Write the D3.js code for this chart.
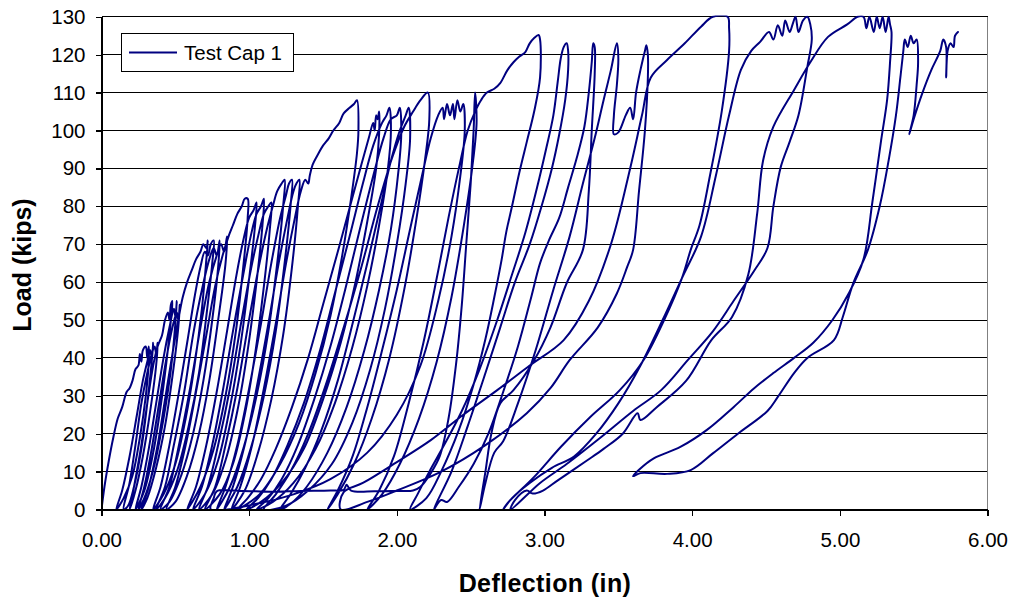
<!DOCTYPE html>
<html>
<head>
<meta charset="utf-8">
<script src="https://cdn.jsdelivr.net/npm/d3@7"></script>
<style>
  body { margin: 0; background: #fff; }
  svg { display: block; }
  text { font-family: "Liberation Sans", Arial, sans-serif; }
</style>
</head>
<body>
<svg id="chart" width="1017" height="606"></svg>
<script>
// Axis ticks and labels
const loadTicks = [0, 10, 20, 30, 40, 50, 60, 70, 80, 90, 100, 110, 120, 130];
const deflectionTicks = [0, 1, 2, 3, 4, 5, 6];
const deflectionLabels = ["0.00", "1.00", "2.00", "3.00", "4.00", "5.00", "6.00"];
const seriesName = "Test Cap 1";

// Load-deflection record, [deflection (in), load (kips)], in test order.
// Cycles grouped by the load level they reach.
const cycles43 = [
  [0,0],[0.02,6],[0.05,13],[0.08,19],[0.11,24],[0.14,27],[0.17,31],[0.19,32],[0.21,34],[0.23,37],[0.25,38],[0.26,41],[0.27,39],[0.28,42],[0.3,43],[0.31,40],[0.32,43],
  [0.32,39],[0.3,30],[0.26,19],[0.21,9],[0.15,3],[0.1,0],
  [0.14,5],[0.19,14],[0.24,25],[0.28,34],[0.31,39],[0.33,42],[0.34,40],[0.35,44],
  [0.34,39],[0.31,28],[0.27,16],[0.22,6],[0.18,1],[0.15,0],
  [0.19,7],[0.23,17],[0.27,28],[0.31,36],[0.34,41],[0.36,43],[0.37,41],[0.38,44],
  [0.37,38],[0.33,26],[0.28,14],[0.23,5],[0.19,0]
];
const cycles55 = [
  [0.22,6],[0.27,17],[0.31,28],[0.35,38],[0.38,43],[0.41,46],[0.43,50],[0.45,52],[0.46,50],[0.47,54],[0.48,55],
  [0.47,50],[0.44,39],[0.4,27],[0.35,15],[0.29,5],[0.23,0],
  [0.27,6],[0.32,16],[0.37,28],[0.42,40],[0.46,48],[0.49,53],[0.5,51],[0.51,55],
  [0.5,49],[0.47,37],[0.42,24],[0.36,12],[0.3,4],[0.25,0],
  [0.29,6],[0.34,16],[0.39,28],[0.44,40],[0.48,48],[0.51,52],[0.52,50],[0.53,54],
  [0.52,48],[0.48,35],[0.43,22],[0.37,11],[0.31,3],[0.27,0]
];
const cycles71 = [
  [0.32,6],[0.38,17],[0.43,29],[0.48,41],[0.52,50],[0.55,56],[0.58,60],[0.61,63],[0.64,66],[0.67,68],[0.69,70],[0.71,69],[0.72,71],
  [0.71,66],[0.68,53],[0.63,38],[0.57,24],[0.5,12],[0.42,4],[0.35,0],
  [0.4,6],[0.46,17],[0.52,30],[0.58,44],[0.63,56],[0.67,64],[0.7,68],[0.72,67],[0.74,70],[0.76,71],
  [0.75,65],[0.71,51],[0.66,36],[0.59,22],[0.51,10],[0.43,3],[0.37,0],
  [0.43,6],[0.49,17],[0.56,31],[0.62,46],[0.68,58],[0.73,66],[0.76,69],[0.78,67],[0.8,71],
  [0.79,64],[0.75,50],[0.69,34],[0.62,20],[0.54,9],[0.46,2],[0.4,0],
  [0.46,6],[0.53,18],[0.6,32],[0.67,48],[0.73,60],[0.78,67],[0.81,70],[0.83,68],[0.85,72],
  [0.84,65],[0.79,50],[0.73,34],[0.66,20],[0.58,9],[0.5,2],[0.44,0]
];
const cycles82 = [
  [0.5,6],[0.57,17],[0.64,31],[0.71,46],[0.77,59],[0.82,67],[0.86,72],[0.89,75],[0.92,78],[0.95,80],[0.97,82],[0.99,82],
  [0.99,77],[0.96,64],[0.91,47],[0.84,30],[0.76,16],[0.67,6],[0.58,0],
  [0.64,6],[0.71,17],[0.78,31],[0.85,47],[0.91,61],[0.96,71],[1.0,77],[1.03,79],[1.05,81],
  [1.04,75],[1.0,61],[0.94,43],[0.87,27],[0.79,13],[0.7,4],[0.62,0],
  [0.68,6],[0.75,17],[0.82,31],[0.89,47],[0.96,62],[1.01,72],[1.05,78],[1.08,80],[1.1,82],
  [1.09,75],[1.05,60],[0.99,42],[0.92,26],[0.84,13],[0.75,4],[0.66,0],
  [0.72,6],[0.79,17],[0.87,32],[0.94,48],[1.01,63],[1.06,72],[1.1,78],[1.13,80],[1.15,81],
  [1.14,74],[1.1,59],[1.04,41],[0.97,25],[0.89,12],[0.8,4],[0.7,0]
];
const cycles87 = [
  [0.77,6],[0.84,17],[0.92,32],[0.99,48],[1.06,63],[1.12,74],[1.16,80],[1.19,84],[1.22,86],[1.24,87],
  [1.23,80],[1.19,65],[1.13,47],[1.05,30],[0.96,16],[0.87,6],[0.78,0],
  [0.84,6],[0.92,17],[1.0,32],[1.08,49],[1.15,65],[1.21,77],[1.25,83],[1.27,86],[1.29,87],
  [1.28,80],[1.24,65],[1.18,47],[1.1,30],[1.01,16],[0.92,6],[0.83,0],
  [0.89,6],[0.97,17],[1.05,32],[1.13,49],[1.2,65],[1.26,77],[1.3,84],[1.32,86],[1.34,87],
  [1.33,80],[1.29,64],[1.23,46],[1.15,29],[1.06,15],[0.97,5],[0.88,0],
  [0.94,6],[1.02,17],[1.1,32],[1.18,49],[1.25,65],[1.31,77],[1.35,84],[1.38,87],[1.4,86],[1.41,88]
];
const cycles108 = [
  [1.43,91],[1.47,94],[1.5,96],[1.54,98],[1.57,100],[1.61,102],[1.64,104.5],[1.68,106],[1.71,107],[1.73,108],
  [1.74,100],[1.73,94],[1.69,82],[1.63,67],[1.55,51],[1.45,36],[1.34,23],[1.21,12],[1.07,4],[0.92,0],
  [0.99,3],[1.08,8],[1.18,16],[1.29,27],[1.4,40],[1.5,54],[1.6,68],[1.69,81],[1.76,91],[1.81,98],[1.84,102],[1.85,100],[1.86,104],[1.87,103],[1.88,105],
  [1.88,99],[1.86,90],[1.8,76],[1.72,60],[1.62,44],[1.5,29],[1.37,16],[1.22,7],[1.08,2],[0.98,0],
  [1.06,3],[1.15,8],[1.26,17],[1.37,28],[1.48,42],[1.58,57],[1.68,72],[1.77,86],[1.84,96],[1.9,102],[1.93,104],[1.95,106],
  [1.96,100],[1.94,90],[1.88,75],[1.8,59],[1.7,43],[1.58,28],[1.45,16],[1.3,7],[1.16,2],[1.05,0],
  [1.13,3],[1.22,8],[1.33,17],[1.44,29],[1.55,43],[1.65,58],[1.75,74],[1.84,88],[1.91,98],[1.96,103],[2.0,104],[2.02,106],
  [2.03,99],[2.01,89],[1.96,74],[1.88,58],[1.78,42],[1.66,27],[1.53,15],[1.39,6],[1.28,1.5],[1.21,0],
  [1.28,4],[1.38,11],[1.49,21],[1.6,34],[1.7,49],[1.8,65],[1.89,80],[1.96,92],[2.02,100],[2.06,104],[2.08,106],
  [2.09,98],[2.06,86],[2.0,70],[1.92,53],[1.82,37],[1.7,23],[1.56,12],[1.4,5],[1.25,1],[1.1,0]
];
const cycles110 = [
  [1.18,4],[1.28,10],[1.4,20],[1.52,33],[1.64,48],[1.76,64],[1.87,80],[1.97,93],[2.05,101],[2.11,105],[2.16,108],[2.21,110],
  [2.22,103],[2.19,92],[2.13,76],[2.05,58],[1.95,40],[1.83,24],[1.71,12],[1.6,4],[1.53,0],
  [1.6,5],[1.7,14],[1.8,27],[1.9,42],[2.0,58],[2.09,74],[2.17,88],[2.23,98],[2.28,104],[2.31,106],[2.32,103],[2.34,107],[2.36,104],[2.38,107],[2.39,103],[2.41,108],[2.43,105],[2.45,107],
  [2.46,100],[2.43,88],[2.37,72],[2.28,55],[2.16,38],[2.0,25],[1.8,15],[1.55,8],[1.3,4],[1.05,1.5],[0.74,0],
  [0.76,3],[0.78,4.8],[0.95,4.9],[1.15,4.7],[1.35,4.9],[1.55,5],[1.64,5.2],[1.66,6.5],[1.69,5],[1.85,4.8],[2.0,4.9],[2.11,5],[2.16,6],[2.23,9.6],[2.29,14],[2.35,24],[2.4,38],[2.44,54],[2.47,70],[2.5,86],[2.52,100],[2.53,110],
  [2.54,102],[2.51,90],[2.45,74],[2.37,56],[2.27,39],[2.15,24],[2.02,12],[1.9,4],[1.8,0],
  [1.88,5],[1.98,14],[2.08,28],[2.18,44],[2.27,61],[2.35,77],[2.42,90],[2.48,100],[2.53,105],[2.57,108],[2.61,110],[2.66,111],[2.7,112.5],[2.75,116],[2.79,118],[2.83,119.5],[2.87,120.7],[2.9,123],[2.93,124.4],[2.96,125.2]
];
const cycles125 = [
  [2.97,124],[2.97,114],[2.93,105],[2.88,97],[2.83,89],[2.78,80],[2.74,73],[2.71,66],[2.66,56],[2.6,45],[2.52,33],[2.42,21],[2.3,10],[2.2,3],[2.09,0],
  [2.14,4],[2.22,10],[2.32,17],[2.44,26],[2.56,37],[2.68,50],[2.78,62],[2.87,73],[2.95,85],[3.01,95],[3.06,104],[3.09,113],[3.11,119],[3.13,122],[3.15,123],
  [3.16,121],[3.16,116],[3.14,108],[3.1,99],[3.05,90],[2.98,80],[2.9,70],[2.8,60],[2.7,48],[2.6,36],[2.48,22],[2.37,10],[2.25,0],
  [2.3,2.5],[2.34,2],[2.42,6],[2.52,12],[2.62,20],[2.72,31],[2.82,43],[2.91,56],[2.97,65],[3.03,71],[3.1,77],[3.16,85],[3.22,93],[3.27,101],[3.3,110],[3.32,118],[3.33,123],
  [3.34,122],[3.34,115],[3.32,100],[3.3,84],[3.26,68.5],[3.15,59.7],[3.04,48],[2.93,39.4],[2.79,31.5],[2.7,28],[2.64,20],[2.6,10],[2.56,0],
  [2.6,7],[2.66,15],[2.72,18],[2.82,28],[2.94,42],[3.06,58],[3.17,72],[3.26,86],[3.34,98],[3.4,108],[3.45,116],[3.49,123],
  [3.5,119],[3.49,112],[3.47,104],[3.47,99],[3.5,99.5],[3.55,104],[3.58,106],[3.6,103],[3.62,110],[3.65,116],[3.68,121],[3.69,122.5],
  [3.7,120],[3.7,114],[3.68,100],[3.64,84],[3.6,68.5],[3.56,64],[3.49,57],[3.36,48],[3.17,39.4],[3.04,32],[2.88,25.4],[2.6,17],[2.3,10],[2.0,5],[1.8,2],[1.62,0]
];
const cycles130 = [
  [1.64,4.6],[1.77,7],[2.0,12.5],[2.23,18.3],[2.45,25],[2.68,31.5],[2.9,38],[3.13,44.7],[3.3,55],[3.45,70],[3.58,90],[3.66,104],[3.72,114],[3.83,118.6],[3.95,123],[4.06,127.4],[4.14,130],[4.24,130],
  [4.25,127],[4.25,121],[4.2,105],[4.12,88],[4.05,75],[3.99,68.5],[3.93,61],[3.81,50],[3.67,39.4],[3.51,31.5],[3.31,24.4],[3.11,16.5],[2.93,8.6],[2.75,1.7],[2.72,0],
  [2.78,3],[2.9,7],[3.05,11],[3.2,14],[3.35,20],[3.5,28],[3.65,38],[3.8,50],[3.93,61],[4.06,72],[4.16,88],[4.25,104],[4.33,116],[4.4,121],[4.46,123.4],[4.52,126],[4.55,124],[4.58,127.8],[4.61,125],[4.63,129],[4.66,126],[4.68,128],[4.7,130],[4.72,126],[4.75,129],[4.78,130],[4.8,128],
  [4.81,124],[4.78,116.8],[4.72,104],[4.66,97],[4.6,90.4],[4.55,80],[4.51,69],[4.42,63],[4.28,55],[4.14,47],[3.97,39.4],[3.79,31.5],[3.6,26],[3.38,19],[3.15,12],[2.97,7],[2.77,0],
  [2.8,2.5],[2.88,5],[2.92,4.2],[2.99,5],[3.09,7.7],[3.29,13],[3.4,16],[3.53,20],[3.63,25.4],[3.65,23.6],[3.76,27],[3.96,34],[4.13,44.7],[4.27,50.8],[4.38,62],[4.44,78],[4.48,92],[4.55,101],[4.69,110.7],[4.8,118],[4.92,124.7],[5.05,128],[5.12,130],[5.16,130],[5.18,127],[5.2,130],[5.23,126],[5.25,130],[5.27,127],[5.29,130],[5.31,126],[5.33,130],[5.34,128],
  [5.35,126],[5.34,118],[5.32,108],[5.28,97.5],[5.22,81],[5.16,66],[5.06,57],[4.95,50],[4.82,44],[4.69,40],[4.55,36],[4.42,32],[4.28,27],[4.1,21],[3.92,16.5],[3.74,13.5],[3.64,10.5],[3.6,8.8],
  [3.65,9.6],[3.83,9.4],[3.99,10.4],[4.14,14.8],[4.31,20],[4.51,26],[4.58,29.7],[4.69,36],[4.78,40],[4.96,44.7],[5.02,50.8],[5.09,59.6],[5.19,68.5],[5.27,80],[5.33,92],[5.38,104],[5.41,114],[5.43,121],[5.44,124],[5.46,122],[5.48,125],[5.5,123],[5.52,124],
  [5.53,118],[5.52,112],[5.5,104],[5.47,99],[5.5,103],[5.56,110],[5.62,116],[5.68,121],[5.7,124],[5.72,122],[5.72,114],[5.73,121],[5.75,123],[5.77,122],[5.78,125],[5.8,126]
];

const record = [].concat(cycles43, cycles55, cycles71, cycles82, cycles87,
                         cycles108, cycles110, cycles125, cycles130);

// ---- layout ----
const svg = d3.select("#chart");
const x = d3.scaleLinear().domain([0, 6]).range([101.5, 987.5]);
const y = d3.scaleLinear().domain([0, 130]).range([509.5, 16.8]);
const fontSize = "20.5px";
const navy = "#000080";

svg.append("rect").attr("width", 1017).attr("height", 606).attr("fill", "#fff");

// horizontal gridlines
svg.append("g")
  .selectAll("line")
  .data(loadTicks.filter(v => v > 0))
  .join("line")
  .attr("x1", x(0)).attr("x2", x(6))
  .attr("y1", d => y(d)).attr("y2", d => y(d))
  .attr("stroke", "#000").attr("stroke-width", 1)
  .attr("shape-rendering", "crispEdges");

// right border of plot area
svg.append("line")
  .attr("x1", x(6)).attr("x2", x(6))
  .attr("y1", y(0)).attr("y2", y(130))
  .attr("stroke", "#808080").attr("stroke-width", 1.3)
  .attr("shape-rendering", "crispEdges");

// data line, clipped to the plot area
svg.append("clipPath").attr("id", "plotClip")
  .append("rect")
  .attr("x", x(0)).attr("y", y(130) - 1.2)
  .attr("width", x(6) - x(0)).attr("height", y(0) - y(130) + 1.2);

const line = d3.line()
  .x(d => x(d[0]))
  .y(d => y(d[1]))
  .curve(d3.curveCatmullRom.alpha(0.5));

svg.append("path")
  .datum(record)
  .attr("clip-path", "url(#plotClip)")
  .attr("fill", "none")
  .attr("stroke", navy)
  .attr("stroke-width", 2)
  .attr("stroke-linejoin", "round")
  .attr("stroke-linecap", "round")
  .attr("d", line);

// axes
const yAxis = svg.append("g")
  .attr("transform", `translate(${x(0)},0)`)
  .call(d3.axisLeft(y).tickValues(loadTicks).tickSize(6).tickSizeOuter(0).tickPadding(10)
    .tickFormat(d => String(d)));
const xAxis = svg.append("g")
  .attr("transform", `translate(0,${y(0)})`)
  .call(d3.axisBottom(x).tickValues(deflectionTicks).tickSize(6).tickSizeOuter(0).tickPadding(16.5)
    .tickFormat((d, i) => deflectionLabels[i]));

[yAxis, xAxis].forEach(g => {
  g.selectAll("path.domain").attr("stroke", "#000").attr("stroke-width", 1.3).attr("shape-rendering", "crispEdges");
  g.selectAll(".tick line").attr("stroke", "#000").attr("stroke-width", 1.3).attr("shape-rendering", "crispEdges");
  g.selectAll(".tick text")
    .attr("fill", "#000")
    .style("font-family", '"Liberation Sans", Arial, sans-serif')
    .style("font-size", fontSize);
});

// axis titles
svg.append("text")
  .attr("x", 545).attr("y", 592)
  .attr("text-anchor", "middle")
  .style("font-size", "25px").style("font-weight", "bold")
  .style("letter-spacing", "0.4px")
  .text("Deflection (in)");

svg.append("text")
  .attr("transform", "translate(31,265) rotate(-90)")
  .attr("text-anchor", "middle")
  .style("font-size", "25px").style("font-weight", "bold")
  .text("Load (kips)");

// legend
const legend = svg.append("g");
legend.append("rect")
  .attr("x", 121.5).attr("y", 33.5).attr("width", 172).attr("height", 38)
  .attr("fill", "#fff").attr("stroke", "#000").attr("stroke-width", 1);
legend.append("line")
  .attr("x1", 129).attr("x2", 177).attr("y1", 52.5).attr("y2", 52.5)
  .attr("stroke", navy).attr("stroke-width", 2);
legend.append("text")
  .attr("x", 184).attr("y", 60)
  .style("font-size", fontSize)
  .text(seriesName);
</script>
</body>
</html>
